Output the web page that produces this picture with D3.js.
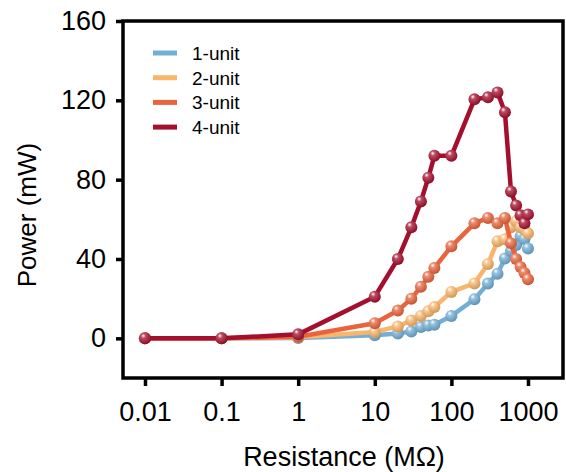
<!DOCTYPE html>
<html>
<head>
<meta charset="utf-8">
<script src="https://cdn.jsdelivr.net/npm/d3@7"></script>
<style>
  body { margin: 0; background: #fff; }
  svg { font-family: "Liberation Sans", Arial, sans-serif; }
</style>
</head>
<body>
<div class="svg-container"></div>
<script>
// resistance (MΩ) for each measured point
const resistance = [0.01, 0.1, 1, 10, 20, 30, 40, 50, 60, 100, 200, 300, 400, 500, 600, 700, 800, 900, 1000];

// power (mW) per series
const unit1 = [0, 0, 0.2, 1.5, 2.4, 3.5, 5.7, 6.5, 6.9, 11.3, 19.7, 27.6, 32.6, 40.2, 44, 47, 51.5, 50, 45.3];
const unit2 = [0, 0, 0.5, 3.2, 6, 9, 11.3, 13.6, 15.8, 23.4, 27.7, 37.5, 49, 50, 56, 59, 56, 55, 53];
const unit3 = [0, 0, 0.8, 7.6, 14, 20, 26, 31, 35.5, 46.4, 58, 60.7, 58, 60.7, 48, 40, 36, 33, 29.8];
const unit4 = [0, 0, 2, 21, 40, 56, 69, 81, 92, 92, 120.5, 121.5, 124, 114, 74, 67, 62, 58, 62.5];

const seriesNames = ["1-unit", "2-unit", "3-unit", "4-unit"];
const seriesColors = ["#72aed6", "#f9b56a", "#e9643c", "#a50f2e"];

const xTicks = [0.01, 0.1, 1, 10, 100, 1000];
const yTicks = [0, 40, 80, 120, 160];

const w = 566, h = 472;
const padL = 123, padR = 563, padT = 21, padB = 378;

const svg = d3.select(".svg-container")
  .append("svg")
  .attr("width", w)
  .attr("height", h);

// ball gradients
const defs = svg.append("defs");
seriesColors.forEach(function(c, i) {
  const g = defs.append("radialGradient")
    .attr("id", "ball" + i)
    .attr("cx", "40%").attr("cy", "35%").attr("r", "65%")
    .attr("fx", "35%").attr("fy", "28%");
  g.append("stop").attr("offset", "0%").attr("stop-color", "#ffffff");
  g.append("stop").attr("offset", "30%").attr("stop-color", d3.interpolateRgb(c, "#fff")(0.25));
  g.append("stop").attr("offset", "100%").attr("stop-color", d3.color(c).darker(0.5));
});

const xScale = d3.scaleLog()
  .domain([Math.pow(10, -2.287), Math.pow(10, 3.457)])
  .range([padL, padR]);

const yScale = d3.scaleLinear()
  .domain([-20, 160])
  .range([padB, padT]);

const series = [unit1, unit2, unit3, unit4].map(function(vals, i) {
  return { name: seriesNames[i], color: seriesColors[i], idx: i,
           points: vals.map((v, j) => [resistance[j], v]) };
});

const line = d3.line()
  .x(d => xScale(d[0]))
  .y(d => yScale(d[1]));

series.forEach(function(s) {
  const g = svg.append("g");
  g.append("path")
    .datum(s.points)
    .attr("fill", "none")
    .attr("stroke", s.color)
    .attr("stroke-width", 4.5)
    .attr("stroke-linejoin", "round")
    .attr("d", line);
  g.selectAll("circle")
    .data(s.points)
    .enter()
    .append("circle")
    .attr("cx", d => xScale(d[0]))
    .attr("cy", d => yScale(d[1]))
    .attr("r", 6)
    .attr("fill", "url(#ball" + s.idx + ")");
});

// axes
const xAxis = d3.axisBottom(xScale)
  .tickValues(xTicks)
  .tickFormat(d => String(d))
  .tickSizeInner(8).tickSizeOuter(0).tickPadding(16);
const yAxis = d3.axisLeft(yScale)
  .tickValues(yTicks)
  .tickSizeInner(7).tickSizeOuter(0).tickPadding(10);

const gx = svg.append("g")
  .attr("transform", "translate(0," + padB + ")")
  .call(xAxis);
const gy = svg.append("g")
  .attr("transform", "translate(" + padL + ",0)")
  .call(yAxis);

[gx, gy].forEach(function(g) {
  g.select(".domain").remove();
  g.selectAll(".tick line").attr("stroke", "#000").attr("stroke-width", 3.5);
  g.selectAll(".tick text")
    .attr("fill", "#000")
    .style("font-size", "27px")
    .style("font-family", "'Liberation Sans', Arial, sans-serif");
});

// frame
svg.append("rect")
  .attr("x", padL).attr("y", padT)
  .attr("width", padR - padL).attr("height", padB - padT)
  .attr("fill", "none")
  .attr("stroke", "#000")
  .attr("stroke-width", 3.5);

// axis titles
svg.append("text")
  .attr("x", 344).attr("y", 466)
  .attr("text-anchor", "middle")
  .style("font-size", "27px")
  .text("Resistance (MΩ)");

svg.append("text")
  .attr("transform", "translate(36,215) rotate(-90)")
  .attr("text-anchor", "middle")
  .style("font-size", "26px")
  .text("Power (mW)");

// legend
const legend = svg.append("g");
series.forEach(function(s, i) {
  const y = 53 + i * 24.7;
  legend.append("line")
    .attr("x1", 153).attr("x2", 177)
    .attr("y1", y).attr("y2", y)
    .attr("stroke", s.color)
    .attr("stroke-width", 5);
  legend.append("text")
    .attr("x", 192).attr("y", y + 7)
    .style("font-size", "19px")
    .text(s.name);
});
</script>
</body>
</html>
